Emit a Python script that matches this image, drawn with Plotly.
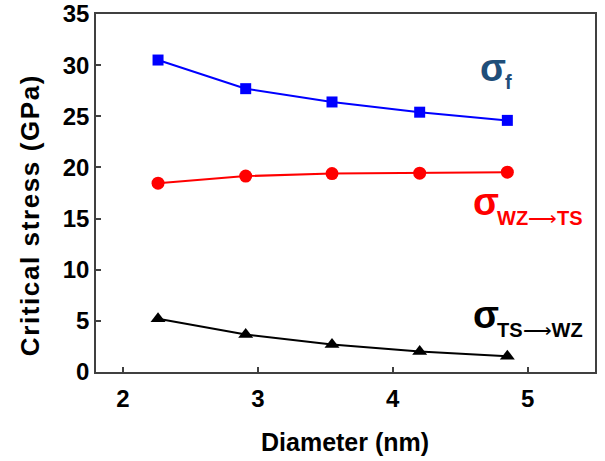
import plotly.graph_objects as go

diameter = [2.26, 2.91, 3.55, 4.20, 4.85]
sigma_f = [30.5, 27.7, 26.4, 25.4, 24.6]
sigma_wz_ts = [18.46, 19.15, 19.4, 19.44, 19.54]
sigma_ts_wz = [5.2, 3.66, 2.68, 2.0, 1.54]

x_ticks = [2, 3, 4, 5]
y_ticks = [0, 5, 10, 15, 20, 25, 30, 35]

FONT = "Liberation Sans, Arial, sans-serif"

fig = go.Figure()
fig.add_trace(go.Scatter(x=diameter, y=sigma_f, mode="lines+markers",
                         line=dict(color="#0000FF", width=2),
                         marker=dict(symbol="square", size=11, color="#0000FF")))
fig.add_trace(go.Scatter(x=diameter, y=sigma_wz_ts, mode="lines+markers",
                         line=dict(color="#FF0000", width=2),
                         marker=dict(symbol="circle", size=13, color="#FF0000")))
fig.add_trace(go.Scatter(x=diameter, y=sigma_ts_wz, mode="lines+markers",
                         line=dict(color="#000000", width=2),
                         marker=dict(symbol="triangle-up", size=13, color="#000000")))

def ann(text, x, y, size, color, weight="bold"):
    fig.add_annotation(x=x, y=y, xref="x", yref="y", showarrow=False,
                       xanchor="left", yanchor="middle", text=text,
                       font=dict(family=FONT, size=size, color=color, weight=weight))

ARROW = "<span style='font-weight:normal'>⟶</span>"

# sigma_f
ann("σ", 4.636, 29.7, 38, "#1F4E79")
ann("f", 4.815, 28.4, 20, "#1F4E79")
# sigma WZ->TS
ann("σ", 4.577, 16.6, 38, "#FF0000")
ann("WZ" + ARROW + "TS", 4.76, 15.1, 20, "#FF0000")
# sigma TS->WZ
ann("σ", 4.577, 5.55, 38, "#000000")
ann("TS" + ARROW + "WZ", 4.76, 4.1, 20, "#000000")

# axis titles
fig.add_annotation(x=-0.132, y=0.4385, xref="paper", yref="paper", showarrow=False,
                   textangle=-90, xanchor="center", yanchor="middle",
                   text="<span style='letter-spacing:1.6px'>Critical stress (GPa)</span>",
                   font=dict(family=FONT, size=26, color="#000000", weight="bold"))
fig.add_annotation(x=0.499, y=-0.1955, xref="paper", yref="paper", showarrow=False,
                   xanchor="center", yanchor="middle",
                   text="Diameter (nm)",
                   font=dict(family=FONT, size=25, color="#000000", weight="bold"))

axis_common = dict(showline=True, linecolor="#404040", linewidth=1.5, mirror=True,
                   ticks="inside", ticklen=5, tickcolor="#404040", tickwidth=1.5,
                   showgrid=False, zeroline=False, automargin=False,
                   ticklabeloverflow="allow",
                   tickfont=dict(family=FONT, size=24, color="#000000", weight="bold"))

fig.update_layout(
    width=605, height=461,
    margin=dict(l=96, r=10, t=14, b=89),
    paper_bgcolor="white", plot_bgcolor="white",
    showlegend=False,
    xaxis=dict(range=[1.8, 5.5], tickvals=x_ticks, ticklabelstandoff=4, **axis_common),
    yaxis=dict(range=[0, 35], tickvals=y_ticks, **axis_common),
)

# remove the default 8px page margin so the figure fills the window exactly
fig.write_html("out.html", config={"displayModeBar": False},
               post_script="document.body.style.margin='0';")
